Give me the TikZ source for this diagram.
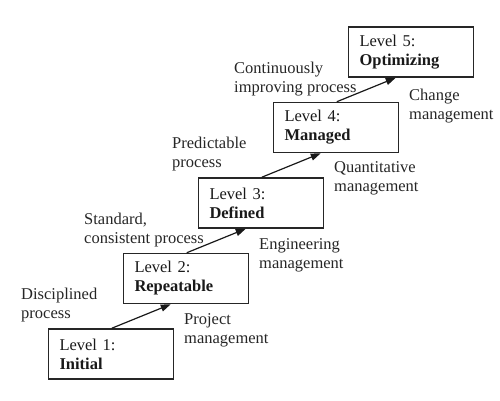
\documentclass[tikz,border=0pt]{standalone}
\usepackage{fontspec}
\setmainfont{Liberation Serif}
\usetikzlibrary{arrows.meta}
\begin{document}
\begin{tikzpicture}[x=1pt,y=-1pt,
  font=\fontsize{16.5}{19}\selectfont,
  levelbox/.style={draw=black!85, line width=1.5pt, minimum width=125pt, minimum height=50pt,
    inner xsep=11pt, inner ysep=0pt, text width=103pt, align=left, text=black!90},
  lbl/.style={anchor=base west, inner sep=0pt, align=left, text=black!85},
  arr/.style={draw=black!90, line width=1.2pt, -{Triangle[length=10pt,width=7pt]}}]
\useasboundingbox (0,0) rectangle (500,400);
\node[levelbox] (b1) at (111,354) {Level 1:\\\textbf{Initial}};
\node[levelbox] (b2) at (186,278.5) {Level 2:\\\textbf{Repeatable}};
\node[levelbox] (b3) at (261,203) {Level 3:\\\textbf{Defined}};
\node[levelbox] (b4) at (336,127.5) {Level 4:\\\textbf{Managed}};
\node[levelbox] (b5) at (411,52) {Level 5:\\\textbf{Optimizing}};
\draw[arr] ([xshift=64pt]b1.north west) -- ([xshift=48pt]b2.south west);
\draw[arr] ([xshift=64pt]b2.north west) -- ([xshift=48pt]b3.south west);
\draw[arr] ([xshift=64pt]b3.north west) -- ([xshift=48pt]b4.south west);
\draw[arr] ([xshift=64pt]b4.north west) -- ([xshift=48pt]b5.south west);
\node[lbl] (l1) at (21,318) {Disciplined\\process};
\node[lbl] (m1) at (184,343) {Project\\management};
\node[lbl] (l2) at (84,243) {Standard,\\consistent process};
\node[lbl] (m2) at (259,268) {Engineering\\management};
\node[lbl] (l3) at (172,167) {Predictable\\process};
\node[lbl] (m3) at (334,191) {Quantitative\\management};
\node[lbl] (l4) at (234,92) {Continuously\\improving process};
\node[lbl] (m4) at (409,119) {Change\\management};
\end{tikzpicture}
\end{document}
